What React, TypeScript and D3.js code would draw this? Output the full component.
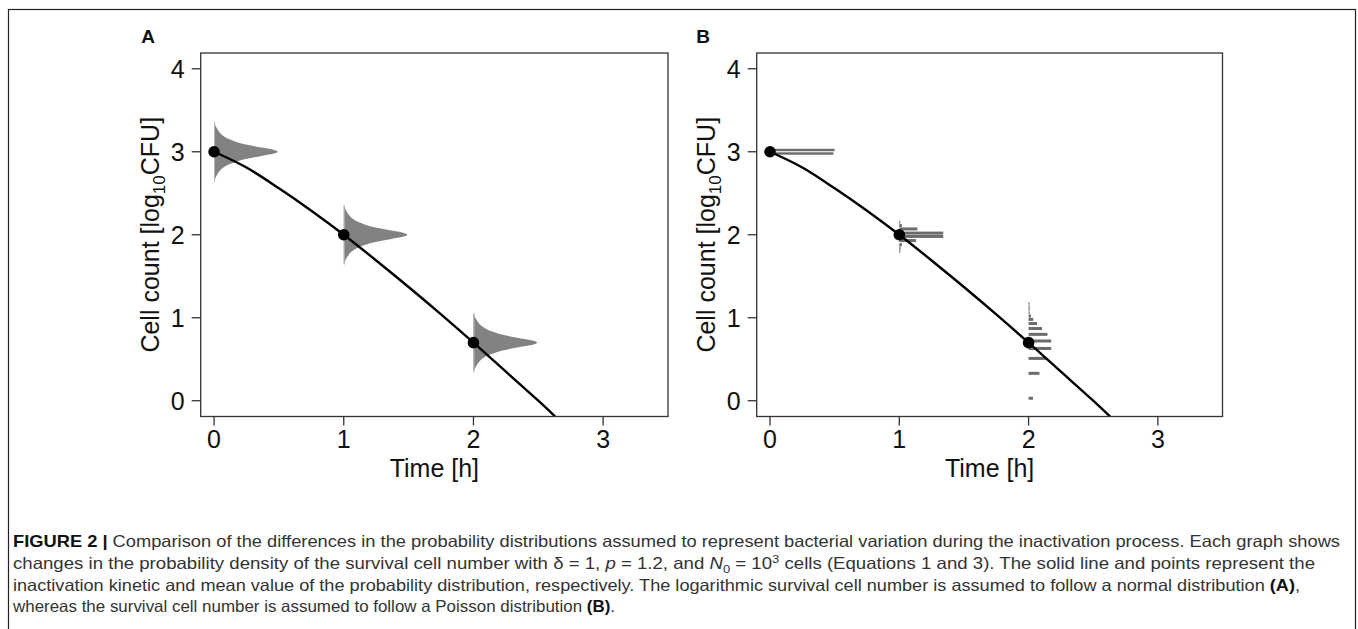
import React from "react";
import * as d3 from "d3";

// ---- data ----
const timeTicks = [0, 1, 2, 3];
const logTicks = [0, 1, 2, 3, 4];

// inactivation kinetic
const curveTime = [0, 0.25, 0.5, 0.75, 1, 1.25, 1.5, 1.75, 2, 2.25, 2.5, 2.63];
const curveLogN = [3, 2.81, 2.56, 2.29, 2.0, 1.69, 1.37, 1.04, 0.7, 0.35, 0.0, -0.19];

// mean points
const pointTime = [0, 1, 2];
const pointLogN = [3, 2, 0.7];

// panel A: normal density shape around each mean (offset in log units, relative width)
const normOffsets = [-0.36, -0.3, -0.25, -0.2, -0.15, -0.125, -0.1, -0.075, -0.05, -0.025, 0, 0.025, 0.05, 0.075, 0.1, 0.125, 0.15, 0.2, 0.25, 0.3, 0.36];
const normRelWidth = [0.0, 0.03, 0.07, 0.13, 0.24, 0.33, 0.43, 0.58, 0.75, 0.93, 1.0, 0.93, 0.75, 0.58, 0.43, 0.33, 0.24, 0.13, 0.07, 0.03, 0.0];
const normPeak = 0.49; // time units

// panel B: Poisson histograms (level in log10 units, bar length in time units)
const pois0Level = [3.021, 2.979];
const pois0Len = [0.5, 0.49];
const pois1Level = [2.15, 2.11, 2.07, 2.02, 1.98, 1.93, 1.88, 1.84, 1.8];
const pois1Len = [0.006, 0.02, 0.14, 0.34, 0.34, 0.13, 0.02, 0.01, 0.005];
const pois2Level = [0.03, 0.33, 0.51, 0.63, 0.72, 0.8, 0.87, 0.93, 0.98, 1.02, 1.06, 1.1, 1.13, 1.17];
const pois2Len = [0.034, 0.084, 0.14, 0.175, 0.175, 0.146, 0.104, 0.065, 0.036, 0.018, 0.008, 0.004, 0.002, 0.001];

const FONT = "'Liberation Sans', Arial, Helvetica, sans-serif";

type PanelProps = { left: number; right: number; letter: string; letterX: number; mode: "normal" | "poisson"; id: string };

function Panel({ left, right, letter, letterX, mode, id }: PanelProps) {
  const top = 53;
  const bottom = 416.5;
  const x = d3.scaleLinear().domain([-0.103, 3.5]).range([left, right]);
  const y = d3.scaleLinear().domain([-0.19, 4.19]).range([bottom, top]);

  const line = d3
    .line<number>()
    .x((_, i) => x(curveTime[i]))
    .y((d) => y(d))
    .curve(d3.curveMonotoneX);

  const dists: React.ReactNode[] = [];
  if (mode === "normal") {
    pointTime.forEach((t, k) => {
      const m = pointLogN[k];
      const a = d3
        .area<number>()
        .y((d) => y(m + d))
        .x0(() => x(t))
        .x1((_, i) => x(t + normRelWidth[i] * normPeak))
        .curve(d3.curveMonotoneY);
      dists.push(<path key={"n" + k} d={a(normOffsets) || ""} fill="#828282" stroke="none" />);
      dists.push(
        <line key={"nl" + k} x1={x(t) + 0.5} x2={x(t) + 0.5} y1={y(m + 0.36)} y2={y(m - 0.36)} stroke="#b4b4b4" strokeWidth={1} />
      );
    });
  } else {
    const sets = [
      { t: 0, lv: pois0Level, ln: pois0Len, w: 2.4 },
      { t: 1, lv: pois1Level, ln: pois1Len, w: 3 },
      { t: 2, lv: pois2Level, ln: pois2Len, w: 3 },
    ];
    sets.forEach((s, k) => {
      s.lv.forEach((lv, i) => {
        const x0 = x(s.t);
        const x1 = Math.max(x(s.t + s.ln[i]), x0 + 1);
        dists.push(
          <rect
            key={`p${k}_${i}`}
            x={x0}
            y={y(lv) - s.w / 2}
            width={x1 - x0}
            height={s.w}
            fill="#6b6b6b"
          />
        );
      });
    });
  }

  return (
    <g>
      <defs>
        <clipPath id={id}>
          <rect x={left} y={top} width={right - left} height={bottom - top} />
        </clipPath>
      </defs>
      <text x={letterX} y={43} fontFamily={FONT} fontWeight="bold" fontSize={19} textAnchor="middle" fill="#111">
        {letter}
      </text>
      {dists}
      <path d={line(curveLogN) || ""} fill="none" stroke="#000" strokeWidth={2.4} clipPath={`url(#${id})`} />
      {pointTime.map((t, i) => (
        <circle key={i} cx={x(t)} cy={y(pointLogN[i])} r={5.8} fill="#000" />
      ))}
      <rect x={left} y={top} width={right - left} height={bottom - top} fill="none" stroke="#333" strokeWidth={1.3} />
      {logTicks.map((v) => (
        <g key={"y" + v}>
          <line x1={left - 9} x2={left} y1={y(v)} y2={y(v)} stroke="#333" strokeWidth={1.3} />
          <text x={left - 16} y={y(v) + 9} fontFamily={FONT} fontSize={25} textAnchor="end" fill="#111">
            {v}
          </text>
        </g>
      ))}
      {timeTicks.map((v) => (
        <g key={"x" + v}>
          <line x1={x(v)} x2={x(v)} y1={bottom} y2={bottom + 9} stroke="#333" strokeWidth={1.3} />
          <text x={x(v)} y={448} fontFamily={FONT} fontSize={25} textAnchor="middle" fill="#111">
            {v}
          </text>
        </g>
      ))}
      <text x={(left + right) / 2} y={477} fontFamily={FONT} fontSize={25} textAnchor="middle" fill="#111">
        Time [h]
      </text>
      <text
        transform={`translate(${left - 42},${(top + bottom) / 2}) rotate(-90)`}
        fontFamily={FONT}
        fontSize={25}
        textAnchor="middle"
        fill="#111"
      >
        Cell count [log
        <tspan fontSize={17} dy={6}>10</tspan>
        <tspan dy={-6}>CFU]</tspan>
      </text>
    </g>
  );
}

const CAP_FONT = "'Liberation Sans Narrow', 'Liberation Sans', Arial, sans-serif";

export default function App() {
  const capX = 13;
  const capSize = 16.5;
  const capFill = "#333";
  return (
    <svg width={1358} height={629} style={{ position: "absolute", left: 0, top: 0, background: "#fff" }}>
      <rect x={0} y={0} width={1358} height={629} fill="#fff" />
      <rect x={8.5} y={9.5} width={1347} height={700} fill="none" stroke="#222" strokeWidth={1.2} />
      <Panel left={200.7} right={668} letter="A" letterX={148} mode="normal" id="clipA" />
      <Panel left={756.7} right={1222.5} letter="B" letterX={703} mode="poisson" id="clipB" />

      <text x={capX} y={547} fontFamily={CAP_FONT} fontSize={capSize} fill={capFill} textLength={1327} lengthAdjust="spacingAndGlyphs">
        <tspan fontWeight="bold" fill="#111">FIGURE 2 |</tspan> Comparison of the differences in the probability distributions assumed to represent bacterial variation during the inactivation process. Each graph shows
      </text>
      <text x={capX} y={569} fontFamily={CAP_FONT} fontSize={capSize} fill={capFill} textLength={1302} lengthAdjust="spacingAndGlyphs">
        changes in the probability density of the survival cell number with δ = 1, <tspan fontStyle="italic">p</tspan> = 1.2, and <tspan fontStyle="italic">N</tspan>
        <tspan fontSize={11.5} dy={4}>0</tspan>
        <tspan dy={-4}> = 10</tspan>
        <tspan fontSize={11.5} dy={-6}>3</tspan>
        <tspan dy={6}> cells (Equations 1 and 3). The solid line and points represent the</tspan>
      </text>
      <text x={capX} y={591} fontFamily={CAP_FONT} fontSize={capSize} fill={capFill} textLength={1287} lengthAdjust="spacingAndGlyphs">
        inactivation kinetic and mean value of the probability distribution, respectively. The logarithmic survival cell number is assumed to follow a normal distribution <tspan fontWeight="bold" fill="#111">(A)</tspan>,
      </text>
      <text x={capX} y={612} fontFamily={CAP_FONT} fontSize={capSize} fill={capFill} textLength={602} lengthAdjust="spacingAndGlyphs">
        whereas the survival cell number is assumed to follow a Poisson distribution <tspan fontWeight="bold" fill="#111">(B)</tspan>.
      </text>
    </svg>
  );
}
